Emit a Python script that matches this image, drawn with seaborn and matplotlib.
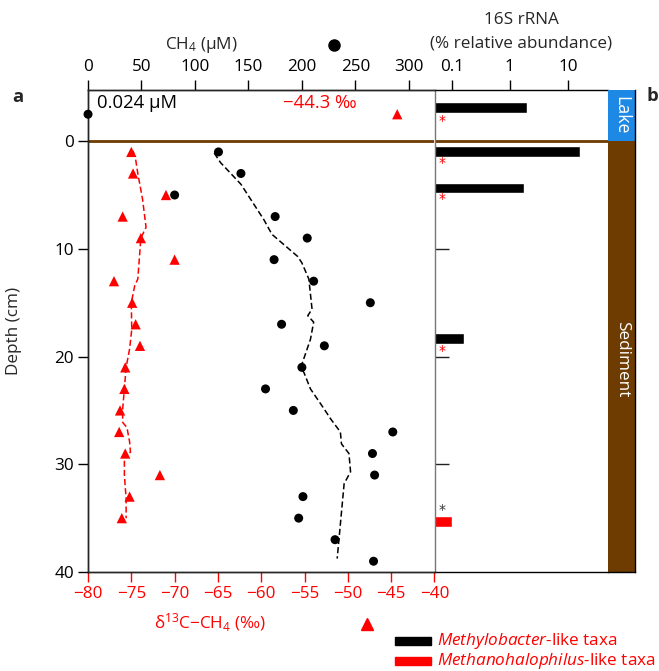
import numpy as np
import pandas as pd
import matplotlib
matplotlib.use('Agg')
import matplotlib.pyplot as plt
import seaborn as sns
from matplotlib.patches import Rectangle
from matplotlib.lines import Line2D

# ---------------- data ----------------
d13c_depth = [1, 3, 5, 7, 9, 11, 13, 15, 17, 19, 21, 23, 25, 27, 29, 31, 33, 35]
d13c = [-75.0, -74.8, -71.0, -76.0, -73.9, -70.0, -77.0, -74.9, -74.5, -74.0,
        -75.7, -75.8, -76.3, -76.4, -75.7, -71.7, -75.2, -76.1]

d13c_line_depth = [0.9, 1.7, 3.0, 5.4, 8.0, 9.0, 12.8, 13.4, 15.0, 17.5, 19.3, 21.0,
                   23.0, 24.9, 26.1, 26.6, 27.9, 28.9, 29.0, 31.0, 33.2, 35.0]
d13c_line = [-74.8, -74.5, -74.25, -73.7, -73.3, -73.9, -74.25, -74.6, -75.0, -74.95,
             -75.2, -75.6, -75.8, -76.0, -76.0, -75.5, -75.2, -75.1, -75.8, -75.8,
             -75.6, -75.6]

ch4_depth = [1, 3, 5, 7, 9, 11, 13, 15, 17, 19, 21, 23, 25, 27, 29, 31, 33, 35, 37, 39]
ch4 = [122, 143, 81, 175, 205, 174, 211, 264, 181, 221, 200, 166, 192, 285, 266,
       268, 201, 197, 231, 267]

ch4_line_depth = [1.1, 2.0, 4.0, 7.3, 8.65, 10.7, 11.3, 12.8, 15.6, 16.2, 16.8, 18.4,
                  21.0, 21.5, 23.0, 24.6, 25.8, 27.0, 28.1, 29.0, 30.7, 31.8, 38.75]
ch4_line = [118, 124, 143, 164.5, 172, 196, 200, 206.5, 209.5, 205.5, 211, 208,
            199, 202, 208, 219, 227, 236, 237, 244, 245.5, 239.5, 233]

lake_depth = -2.5
lake_ch4 = 0.024
lake_d13c = -44.3

bar_depth = [-3.15, 0.95, 4.35, 18.3]
bar_abund = [2.0, 16.0, 1.75, 0.16]
bar2_depth = [35.3]
bar2_abund = [0.1]
star_red_depth = [-1.9, 2.0, 5.4, 19.5]
star_black_depth = [34.2]

ch4_ticks = [0, 50, 100, 150, 200, 250, 300]
d13c_ticks = [-80, -75, -70, -65, -60, -55, -50, -45, -40]
depth_ticks = [0, 10, 20, 30, 40]
abund_ticks = [0.1, 1, 10]
abund_labels = ['0.1', '1', '10']

# ---------------- style ----------------
sns.set_theme(style='white')
plt.rcParams['font.family'] = ['Open Sans', 'DejaVu Sans']
plt.rcParams['mathtext.fontset'] = 'custom'
plt.rcParams['mathtext.rm'] = 'Open Sans'
plt.rcParams['mathtext.it'] = 'Open Sans:italic'
plt.rcParams['mathtext.bf'] = 'Open Sans:bold'
plt.rcParams['axes.linewidth'] = 1.0

RED = '#ff0000'
BROWN = '#6e3b00'
BLUE = '#1e88e5'
FS = 12.3

W, H = 659, 671
fig = plt.figure(figsize=(W / 100, H / 100), dpi=100)

def fx(px):
    return px / W

def fy(py):
    return 1 - py / H

ax_top, ax_bot = 90, 572
left_a, right_a = 88, 434.5
right_b = 608.3
band_r = 635

ax = fig.add_axes([fx(left_a), fy(ax_bot), fx(right_a - left_a), (ax_bot - ax_top) / H])
axb = fig.add_axes([fx(right_a), fy(ax_bot), fx(right_b - right_a), (ax_bot - ax_top) / H])
axl = fig.add_axes([fx(right_b), fy(ax_bot), fx(band_r - right_b), (ax_bot - ax_top) / H])

ylim = (40, -4.75)

# ---------------- panel a: d13C ----------------
df_d = pd.DataFrame({'depth': d13c_depth, 'd13c': d13c})
df_dl = pd.DataFrame({'depth': d13c_line_depth, 'd13c': d13c_line})
sns.lineplot(data=df_dl, x='d13c', y='depth', sort=False, estimator=None, ax=ax,
             color=RED, linestyle=(0, (4, 2)), linewidth=1.1)
sns.scatterplot(data=df_d, x='d13c', y='depth', ax=ax, marker='^', color=RED,
                s=55, edgecolor='none', zorder=3)
sns.scatterplot(x=[lake_d13c], y=[lake_depth], ax=ax, marker='^', color=RED,
                s=55, edgecolor='none', zorder=3)
ax.set_xlim(-80, -40)
ax.set_ylim(*ylim)
ax.set_xticks(d13c_ticks)
ax.set_xticklabels([f'\u2212{abs(t)}' for t in d13c_ticks])
ax.set_yticks(depth_ticks)
ax.tick_params(axis='x', colors=RED, labelcolor=RED, labelsize=FS, length=7,
               width=1, direction='out', pad=3, bottom=True)
ax.tick_params(axis='y', colors='black', labelsize=FS, length=7, width=1,
               direction='out', left=True, pad=3)
ax.set_xlabel('')
ax.set_ylabel('Depth (cm)', fontsize=FS)
ax.yaxis.set_label_coords((22 - left_a) / (right_a - left_a), 0.5)
ax.spines['right'].set_visible(False)
for s in ['left', 'top', 'bottom']:
    ax.spines[s].set_color('black')
ax.axhline(0, color=BROWN, linewidth=2, zorder=2)

# ---------------- panel a: CH4 (top axis) ----------------
ax2 = ax.twiny()
df_c = pd.DataFrame({'depth': ch4_depth, 'ch4': ch4})
df_cl = pd.DataFrame({'depth': ch4_line_depth, 'ch4': ch4_line})
sns.lineplot(data=df_cl, x='ch4', y='depth', sort=False, estimator=None, ax=ax2,
             color='black', linestyle=(0, (4, 2)), linewidth=1.1)
sns.scatterplot(data=df_c, x='ch4', y='depth', ax=ax2, marker='o', color='black',
                s=42, edgecolor='none', zorder=3)
sns.scatterplot(x=[lake_ch4], y=[lake_depth], ax=ax2, marker='o', color='black',
                s=42, edgecolor='none', zorder=3, clip_on=False)
ax2.set_xlim(0, 324)
ax2.set_ylim(*ylim)
ax2.set_xticks(ch4_ticks)
ax2.tick_params(axis='x', colors='black', labelsize=FS, length=7, width=1,
                direction='out', top=True, pad=4)
ax2.set_xlabel('')
ax2.set_ylabel('')
ax2.spines['right'].set_visible(False)

ax2.text(8.5, -3.5, '0.024 \u00b5M', fontsize=FS + 1, color='black',
         ha='left', va='center')
ax.text(-57.5, -3.5, '\u221244.3 \u2030', fontsize=FS + 1, color=RED,
        ha='left', va='center')

# ---------------- panel b ----------------
axb.barh(bar_depth, bar_abund, height=1.0, left=0.0001, color='black')
axb.barh(bar2_depth, bar2_abund, height=1.0, left=0.0001, color=RED)
axb.set_xscale('log')
axb.set_xlim(0.05, 50)
axb.set_ylim(*ylim)
axb.xaxis.tick_top()
axb.set_xticks(abund_ticks)
axb.set_xticklabels(abund_labels)
axb.xaxis.set_minor_locator(matplotlib.ticker.NullLocator())
axb.tick_params(axis='x', which='major', top=True, bottom=False, labelsize=FS,
                length=7, width=1, direction='out', pad=4, colors='black')
axb.set_yticks([10, 20, 30])
axb.set_yticklabels([])
axb.tick_params(axis='y', left=True, length=10, width=1, direction='in', colors='#222222')
axb.spines['right'].set_visible(False)
axb.spines['left'].set_color('#777777')
axb.spines['top'].set_color('black')
axb.spines['bottom'].set_color('black')
axb.axhline(0, color=BROWN, linewidth=2, zorder=1)
for d in star_red_depth:
    axb.text(0.067, d, '*', color=RED, fontsize=10, ha='center', va='center',
             family='DejaVu Sans')
for d in star_black_depth:
    axb.text(0.067, d, '*', color='#333333', fontsize=10, ha='center', va='center',
             family='DejaVu Sans')

# ---------------- lake / sediment band ----------------
axl.set_xlim(0, 1)
axl.set_ylim(*ylim)
axl.axhspan(ylim[1], 0, color=BLUE, lw=0)
axl.axhspan(0, ylim[0], color=BROWN, lw=0)
axl.set_xticks([])
axl.set_yticks([])
for s in axl.spines.values():
    s.set_visible(False)
axl.spines['bottom'].set_visible(True)
axl.spines['bottom'].set_color('black')
axl.spines['right'].set_visible(True)
axl.spines['right'].set_color('black')
axl.text(0.5, -2.45, 'Lake', rotation=270, color='white', fontsize=FS + 0.5,
         ha='center', va='center')
axl.text(0.5, 20.2, 'Sediment', rotation=270, color='white', fontsize=FS,
         ha='center', va='center')

# ---------------- figure texts ----------------
fig.text(fx(18), fy(97), 'a', fontsize=FS + 1, fontweight='bold', ha='center', va='center')
fig.text(fx(652), fy(96), 'b', fontsize=FS + 1, fontweight='bold', ha='center', va='center')
fig.text(fx(201), fy(45), 'CH$_4$ (\u00b5M)', fontsize=FS, ha='center', va='center')
fig.add_artist(Line2D([fx(334)], [fy(45)], marker='o', color='black', markersize=8,
                      transform=fig.transFigure, linestyle='none'))
fig.text(fx(521), fy(20), '16S rRNA', fontsize=FS, ha='center', va='center')
fig.text(fx(521), fy(44), '(% relative abundance)', fontsize=FS, ha='center', va='center')
fig.text(fx(210), fy(623), '\u03b4$^{13}$C\u2212CH$_4$ (\u2030)', fontsize=FS,
         color=RED, ha='center', va='center')
fig.add_artist(Line2D([fx(366.5)], [fy(624)], marker='^', color=RED, markersize=9,
                      transform=fig.transFigure, linestyle='none'))

# legend
fig.add_artist(Rectangle((fx(395), fy(644.5)), fx(36), 7.5 / H, color='black',
                         transform=fig.transFigure))
fig.add_artist(Rectangle((fx(395), fy(664.5)), fx(36), 7.5 / H, color=RED,
                         transform=fig.transFigure))
fig.text(fx(437), fy(641), '$\\it{Methylobacter}$-like taxa', fontsize=FS,
         color=RED, ha='left', va='center')
fig.text(fx(437), fy(661), '$\\it{Methanohalophilus}$-like taxa', fontsize=FS,
         color=RED, ha='left', va='center')

fig.savefig('out.png', dpi=100)
